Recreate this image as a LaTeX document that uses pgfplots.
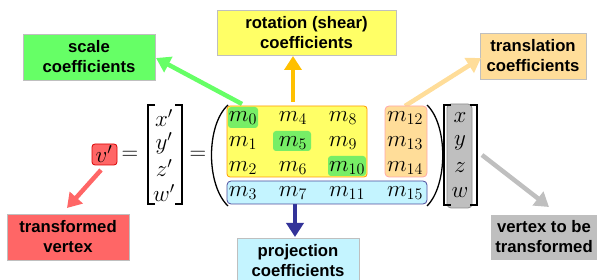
\documentclass[border=0pt]{standalone}
\usepackage{fix-cm}
\usepackage{pgfplots}
\pgfplotsset{compat=1.18}
\usetikzlibrary{arrows.meta}
\usepackage{fontspec}
\setmainfont{Liberation Sans}
\definecolor{gbox}{HTML}{66FF66}
\definecolor{ybox}{HTML}{FFFF66}
\definecolor{tbox}{HTML}{FFDD99}
\definecolor{rbox}{HTML}{FF6666}
\definecolor{bbox}{HTML}{C4F4FF}
\definecolor{grbox}{HTML}{BFBFBF}
\definecolor{oarrow}{HTML}{FFC000}
\definecolor{barrow}{HTML}{333399}
\definecolor{hgreen}{HTML}{77EE66}
\begin{document}
\begin{tikzpicture}
\begin{axis}[scale only axis, width=597pt, height=280pt,
  xmin=0, xmax=597, ymin=0, ymax=280, y dir=reverse,
  hide axis, clip=false]
% label boxes
\tikzset{lbl/.style={draw=black!25, line width=0.8pt, align=center,
  font=\fontsize{16.7}{20}\selectfont\bfseries, inner sep=0pt}}
\draw[lbl, fill=gbox] (axis cs:23,34) rectangle (axis cs:155,80);
\node[lbl, draw=none] at (axis cs:89,57) {scale\\coefficients};
\draw[lbl, fill=ybox] (axis cs:217,10) rectangle (axis cs:396,55);
\node[lbl, draw=none] at (axis cs:306.5,32.5) {rotation (shear)\\coefficients};
\draw[lbl, fill=tbox] (axis cs:480,33) rectangle (axis cs:586,79);
\node[lbl, draw=none] at (axis cs:533,56) {translation\\coefficients};
\draw[lbl, fill=rbox] (axis cs:7,214) rectangle (axis cs:129,260);
\node[lbl, draw=none] at (axis cs:68,237) {transformed\\vertex};
\draw[lbl, fill=bbox] (axis cs:237,238) rectangle (axis cs:359,284);
\node[lbl, draw=none] at (axis cs:298,261) {projection\\coefficients};
\draw[lbl, fill=grbox] (axis cs:491,215) rectangle (axis cs:598,259);
\node[lbl, draw=none] at (axis cs:544,237) {vertex to be\\transformed};
% arrows
\addplot[gbox, line width=4.5pt, -{Triangle[length=14pt,width=17pt]}] coordinates {(242,104) (156,58)};
\addplot[oarrow, line width=4.5pt, -{Triangle[length=14pt,width=17pt]}] coordinates {(293,102) (293,56)};
\addplot[tbox, line width=4.5pt, -{Triangle[length=14pt,width=17pt]}] coordinates {(405,106) (481,58)};
\addplot[rbox, line width=4.5pt, -{Triangle[length=14pt,width=17pt]}] coordinates {(101,170) (67,208)};
\addplot[barrow, line width=4.5pt, -{Triangle[length=14pt,width=17pt]}] coordinates {(295,204) (295,237)};
\addplot[grbox, line width=4.5pt, -{Triangle[length=14pt,width=17pt]}] coordinates {(482,155) (549,207)};
% highlight regions
\draw[fill=ybox, draw=orange!80!yellow, line width=0.8pt, rounded corners=3pt] (axis cs:227,106) rectangle (axis cs:367,177);
\draw[fill=tbox, draw=red!35, line width=0.8pt, rounded corners=4pt] (axis cs:385,106) rectangle (axis cs:427,177);
\draw[fill=bbox, draw=blue!45!black!70, line width=0.8pt, rounded corners=4pt] (axis cs:227,181) rectangle (axis cs:427,204);
\fill[hgreen, rounded corners=3pt] (axis cs:228,107) rectangle (axis cs:258,128);
\fill[hgreen, rounded corners=3pt] (axis cs:273,131) rectangle (axis cs:311,151);
\fill[hgreen, rounded corners=3pt] (axis cs:328,156) rectangle (axis cs:366,176);
\draw[fill=grbox, draw=black!45, line width=0.8pt, rounded corners=4pt] (axis cs:447,104) rectangle (axis cs:472,208);
\draw[fill=rbox, draw=red!85!black, line width=0.8pt, rounded corners=3pt] (axis cs:92,144) rectangle (axis cs:117,165);
% equation
\tikzset{mt/.style={font=\fontsize{23}{26}\selectfont, inner sep=0pt}}
\node[mt] at (axis cs:104,154) {$v'$};
\node[mt] at (axis cs:130,155) {$=$};
\node[mt] at (axis cs:198,155) {$=$};
\node[mt] at (axis cs:164,118) {$x'$};
\node[mt] at (axis cs:164,143) {$y'$};
\node[mt] at (axis cs:164,168) {$z'$};
\node[mt] at (axis cs:164,193) {$w'$};
\draw[line width=1.1pt] (axis cs:155,105) -- (axis cs:148,105) -- (axis cs:148,204) -- (axis cs:155,204);
\draw[line width=1.1pt] (axis cs:175,105) -- (axis cs:182,105) -- (axis cs:182,204) -- (axis cs:175,204);
% matrix
\node[mt] at (axis cs:243,118) {$m_0$};
\node[mt] at (axis cs:293,118) {$m_4$};
\node[mt] at (axis cs:343,118) {$m_8$};
\node[mt] at (axis cs:405,118) {$m_{12}$};
\node[mt] at (axis cs:243,143) {$m_1$};
\node[mt] at (axis cs:293,143) {$m_5$};
\node[mt] at (axis cs:343,143) {$m_9$};
\node[mt] at (axis cs:405,143) {$m_{13}$};
\node[mt] at (axis cs:243,168) {$m_2$};
\node[mt] at (axis cs:293,168) {$m_6$};
\node[mt] at (axis cs:347,168) {$m_{10}$};
\node[mt] at (axis cs:405,168) {$m_{14}$};
\node[mt] at (axis cs:243,193) {$m_3$};
\node[mt] at (axis cs:293,193) {$m_7$};
\node[mt] at (axis cs:347,193) {$m_{11}$};
\node[mt] at (axis cs:405,193) {$m_{15}$};
\draw[line width=1.3pt] (axis cs:228,105) .. controls (axis cs:206,125) and (axis cs:206,185) .. (axis cs:228,206);
\draw[line width=1.3pt] (axis cs:427,105) .. controls (axis cs:448,125) and (axis cs:448,185) .. (axis cs:427,206);
% xyzw vector
\node[mt] at (axis cs:460,118) {$x$};
\node[mt] at (axis cs:460,143) {$y$};
\node[mt] at (axis cs:460,168) {$z$};
\node[mt] at (axis cs:460,193) {$w$};
\draw[line width=1.1pt] (axis cs:451,105) -- (axis cs:444,105) -- (axis cs:444,205) -- (axis cs:451,205);
\draw[line width=1.1pt] (axis cs:470,105) -- (axis cs:477,105) -- (axis cs:477,205) -- (axis cs:470,205);
\end{axis}
\pgfresetboundingbox
\useasboundingbox (0,0) rectangle (597pt,280pt);
\end{tikzpicture}
\end{document}
